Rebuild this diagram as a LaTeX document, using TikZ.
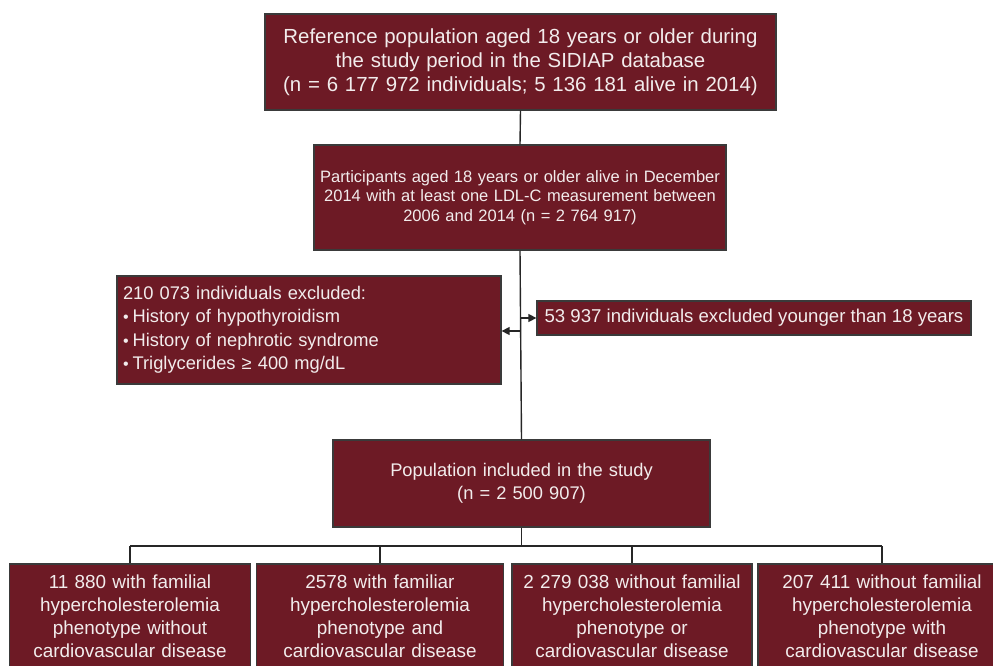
\documentclass[tikz,border=0pt]{standalone}
\usepackage{fontspec}
\setmainfont{Liberation Sans}
\usetikzlibrary{arrows.meta}
\definecolor{boxred}{HTML}{6D1A25}
\definecolor{boxedge}{HTML}{3A3A3A}
\definecolor{boxtext}{HTML}{F2ECEC}
\tikzset{
  redbox/.style={draw=boxedge, line width=1.3pt, fill=boxred, text=boxtext, inner sep=0pt, align=center},
  link/.style={draw=black!85, line width=1.4pt},
  arr/.style={link, -{Triangle[length=8pt,width=8pt]}},
}
\newcommand{\blt}{{\fontsize{16}{16}\selectfont\textbullet}\hspace{4pt}}
\begin{document}
\begin{tikzpicture}[x=1pt,y=-1pt]
\useasboundingbox (0,0) rectangle (993,666);
\fill[white] (0,0) rectangle (993,666);

\node[redbox, minimum width=511pt, minimum height=96pt, text width=505pt,
  font=\fontsize{20.4}{24}\selectfont] (top) at (520.5,62)
  {Reference population aged 18 years or older during\\ the study period in the SIDIAP database\\ (n = 6 177 972 individuals; 5 136 181 alive in 2014)};

\node[redbox, minimum width=412pt, minimum height=105pt, text width=408pt,
  font=\fontsize{16.5}{19.5}\selectfont] (part) at (520,197.5)
  {Participants aged 18 years or older alive in December\\ 2014 with at least one LDL-C measurement between\\ 2006 and 2014 (n = 2 764 917)};

\node[redbox, minimum width=384pt, minimum height=108pt, text width=372pt, align=left,
  font=\fontsize{18.3}{23.5}\selectfont] (excl) at (309,330)
  {210 073 individuals excluded:\\ \blt History of hypothyroidism\\ \blt History of nephrotic syndrome\\ \blt Triglycerides ≥ 400 mg/dL};

\node[redbox, minimum width=434pt, minimum height=34pt,
  font=\fontsize{18.6}{21}\selectfont] (young) at (754,318)
  {53 937 individuals excluded younger than 18 years};

\node[redbox, minimum width=377pt, minimum height=87pt, text width=370pt,
  font=\fontsize{18.3}{23.5}\selectfont] (pop) at (521.5,483.5)
  {Population included in the study\\ (n = 2 500 907)};

\tikzset{bot/.style={redbox, minimum height=104pt, font=\fontsize{18.9}{23}\selectfont}}
\node[bot, minimum width=240.5pt, text width=238pt] (b1) at (130,616)
  {11 880 with familial\\ hypercholesterolemia\\ phenotype without\\ cardiovascular disease};
\node[bot, minimum width=247pt, text width=242pt] (b2) at (380,616)
  {2578 with familiar\\ hypercholesterolemia\\ phenotype and\\ cardiovascular disease};
\node[bot, minimum width=240pt, text width=238pt] (b3) at (632,616)
  {2 279 038 without familial\\ hypercholesterolemia\\ phenotype or\\ cardiovascular disease};
\node[bot, minimum width=248pt, text width=242pt] (b4) at (882,616)
  {207 411 without familial\\ hypercholesterolemia\\ phenotype with\\ cardiovascular disease};

% connectors
\draw[link] (top.south) -- (part.north);
\draw[link] (part.south) -- (pop.north);
\coordinate (ry) at (part.south |- 0,318);
\coordinate (ly) at (part.south |- 0,331);
\draw[arr] (ry) -- (young.west);
\draw[arr] (ly) -- (excl.east |- ly);

\coordinate (split) at (pop.south |- 0,546);
\draw[link] (pop.south) -- (split);
\draw[link] (b1.north |- split) -- (b4.north |- split);
\foreach \b in {b1,b2,b3,b4} \draw[link] (\b.north |- split) -- (\b.north);
\end{tikzpicture}
\end{document}
